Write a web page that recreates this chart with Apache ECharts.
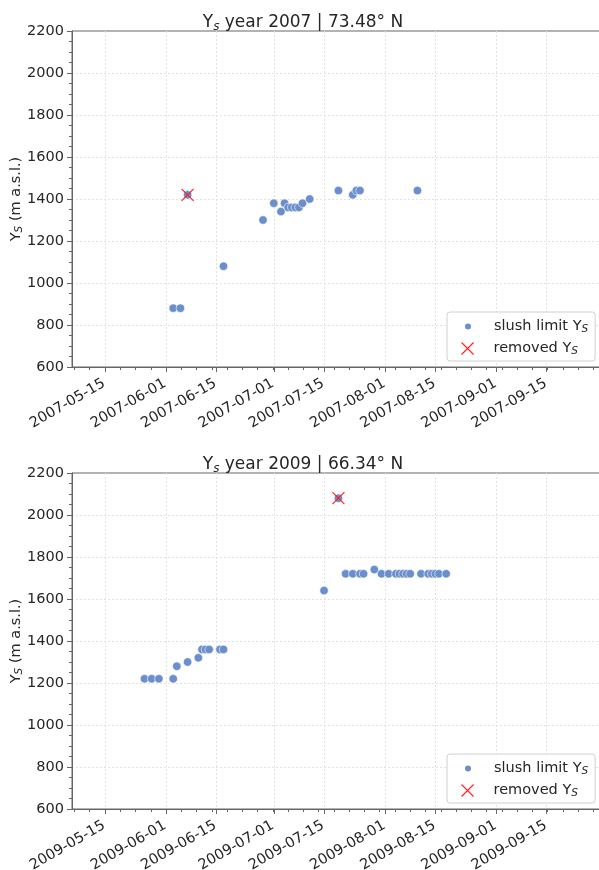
<!DOCTYPE html>
<html><head><meta charset="utf-8">
<script src="https://cdn.jsdelivr.net/npm/echarts@6/dist/echarts.min.js"></script>
<style>html,body{margin:0;padding:0;background:#fff}#c{width:599px;height:870px}</style>
</head><body><div id="c"></div>
<script>
// ---------- data ----------
const xTickLabels2007 = ['2007-05-15','2007-06-01','2007-06-15','2007-07-01','2007-07-15','2007-08-01','2007-08-15','2007-09-01','2007-09-15'];
const xTickLabels2009 = ['2009-05-15','2009-06-01','2009-06-15','2009-07-01','2009-07-15','2009-08-01','2009-08-15','2009-09-01','2009-09-15'];
const yTicks = [600, 800, 1000, 1200, 1400, 1600, 1800, 2000, 2200];

const dates2007 = ['2007-06-03','2007-06-05','2007-06-07','2007-06-17','2007-06-28','2007-07-01','2007-07-03','2007-07-04','2007-07-05','2007-07-06','2007-07-07','2007-07-08','2007-07-09','2007-07-11','2007-07-19','2007-07-23','2007-07-24','2007-07-25','2007-08-10'];
const values2007 = [880, 880, 1420, 1080, 1300, 1380, 1340, 1380, 1360, 1360, 1360, 1360, 1380, 1400, 1440, 1420, 1440, 1440, 1440];
const removedDates2007 = ['2007-06-07'];
const removedValues2007 = [1420];

const dates2009 = ['2009-05-26','2009-05-28','2009-05-30','2009-06-03','2009-06-04','2009-06-07','2009-06-10','2009-06-11','2009-06-12','2009-06-13','2009-06-16','2009-06-17','2009-07-15','2009-07-19','2009-07-21','2009-07-23','2009-07-25','2009-07-26','2009-07-29','2009-07-31','2009-08-02','2009-08-04','2009-08-05','2009-08-06','2009-08-07','2009-08-08','2009-08-11','2009-08-13','2009-08-14','2009-08-15','2009-08-16','2009-08-18'];
const values2009 = [1220, 1220, 1220, 1220, 1280, 1300, 1320, 1360, 1360, 1360, 1360, 1360, 1640, 2080, 1720, 1720, 1720, 1720, 1740, 1720, 1720, 1720, 1720, 1720, 1720, 1720, 1720, 1720, 1720, 1720, 1720, 1720];
const removedDates2009 = ['2009-07-19'];
const removedValues2009 = [2080];

// ---------- helpers ----------
const DAY = 86400000;
const FONT = 'DejaVu Sans';
const TXT = '#262626';
const AX = '#666666';
function ts(s){ const p = s.split('-').map(Number); return Date.UTC(p[0], p[1]-1, p[2]); }
function fmt(v){ const d = new Date(v); const p = n => (n<10?'0':'')+n; return d.getUTCFullYear()+'-'+p(d.getUTCMonth()+1)+'-'+p(d.getUTCDate()); }
function pairs(ds, vs){ return ds.map((d,i)=>[ts(d), vs[i]]); }
function minorTicks(major, lo, hi){
  const step = (major[1]-major[0])/4;
  const out = [];
  let k = Math.ceil((lo - major[0]) / step);
  for (;; k++){
    const t = major[0] + k*step;
    if (t > hi) break;
    if (t >= lo && !major.some(m => Math.abs(m - t) < 1000)) out.push(t);
  }
  return out;
}

const XMARGIN_L = 9.19 * DAY, XMARGIN_R = 14.84 * DAY;
const grids = [{top: 31}, {top: 473}];
const blue = '#6b8ecc';
const xSym = 'path://M0,0L10,10M10,0L0,10';
const GRIDLINE = {color: '#e2e2e2', type: [2,2], width: 1};

const option = {
  animation: false,
  backgroundColor: '#ffffff',
  title: [], grid: [], xAxis: [], yAxis: [], series: [], legend: []
};

const sets = [
  {year: '2007', lat: '73.48', ticks: xTickLabels2007, d: dates2007, v: values2007, rd: removedDates2007, rv: removedValues2007},
  {year: '2009', lat: '66.34', ticks: xTickLabels2009, d: dates2009, v: values2009, rd: removedDates2009, rv: removedValues2009}
];

const subRich = {sub: {fontFamily: FONT, fontSize: 10.5, fontStyle: 'italic', color: TXT, padding: [6,0,0,0]}};

sets.forEach((s, i) => {
  const top = grids[i].top;
  const major = s.ticks.map(ts);
  const xmin = major[0] - XMARGIN_L, xmax = major[major.length-1] + XMARGIN_R;
  option.title.push({
    text: 'Y{sub|s} year ' + s.year + ' | ' + s.lat + '° N',
    left: 303, top: top - 17.5, textAlign: 'center', padding: 0,
    textStyle: {fontFamily: FONT, fontSize: 17, fontWeight: 'normal', color: TXT,
      rich: {sub: {fontFamily: FONT, fontSize: 12, fontStyle: 'italic', color: TXT, padding: [7,0,0,0]}}}
  });
  option.grid.push({left: 72, top: top, width: 528, height: 336, show: true, borderColor: AX, borderWidth: 1,
    backgroundColor: 'transparent', containLabel: false, outerBoundsMode: 'none'});
  option.xAxis.push({
    type: 'value', gridIndex: i, min: xmin, max: xmax, position: 'bottom',
    axisLine: {show: true, onZero: false, lineStyle: {color: AX, width: 1}},
    axisTick: {show: true, length: 5, customValues: major, lineStyle: {color: AX}},
    axisLabel: {customValues: major, rotate: 30, formatter: v => fmt(v), fontFamily: FONT, fontSize: 14.5, color: TXT, margin: 15, padding: [0,1,0,0]},
    splitLine: {show: true, lineStyle: GRIDLINE}
  });
  option.xAxis.push({
    type: 'value', gridIndex: i, min: xmin, max: xmax, position: 'bottom',
    axisLine: {show: false, onZero: false},
    axisTick: {show: true, length: 3, customValues: minorTicks(major, xmin, xmax), lineStyle: {color: AX}},
    axisLabel: {show: false}, splitLine: {show: false}
  });
  option.yAxis.push({
    type: 'value', gridIndex: i, min: yTicks[0], max: yTicks[yTicks.length-1], interval: yTicks[1]-yTicks[0],
    axisLine: {show: true, lineStyle: {color: AX, width: 1}},
    axisTick: {show: true, length: 5, lineStyle: {color: AX}},
    minorTick: {show: true, splitNumber: 4, length: 3, lineStyle: {color: AX}},
    axisLabel: {fontFamily: FONT, fontSize: 14.5, color: TXT, margin: 8, formatter: v => String(v)},
    splitLine: {show: true, showMinLine: false, showMaxLine: false, lineStyle: GRIDLINE},
    name: 'Y{sub|S} (m a.s.l.)', nameLocation: 'middle', nameGap: 47, nameRotate: 90, nameMoveOverlap: false,
    nameTextStyle: {fontFamily: FONT, fontSize: 14.5, color: TXT, rich: subRich}
  });
  const nSl = 'slush limit ' + s.year, nRm = 'removed ' + s.year;
  option.series.push({
    type: 'scatter', name: nSl, xAxisIndex: 2*i, yAxisIndex: i, data: pairs(s.d, s.v),
    symbol: 'circle', symbolSize: 8.5, itemStyle: {color: blue, borderColor: '#ffffff', borderWidth: 0.6, opacity: 1}, z: 3
  });
  option.series.push({
    type: 'scatter', name: nRm, xAxisIndex: 2*i, yAxisIndex: i, data: pairs(s.rd, s.rv),
    symbol: xSym, symbolSize: 12, itemStyle: {color: 'rgba(0,0,0,0)', borderColor: '#ff1f1f', borderWidth: 1.1, opacity: 1}, z: 4
  });
  const legTop = top + 281;
  const tsA = {fontFamily: FONT, fontSize: 14.5, color: TXT,
    rich: Object.assign({gap: {width: 17}}, subRich)};
  const tsB = {fontFamily: FONT, fontSize: 14.5, color: TXT,
    rich: Object.assign({gap: {width: 15}}, subRich)};
  option.legend.push({
    data: [{name: nSl, icon: 'circle'}], left: 447, top: legTop, orient: 'vertical',
    padding: [7, 7, 26, 16], itemWidth: 8, itemHeight: 8, selectedMode: false,
    borderColor: '#d0d0d0', borderWidth: 1, borderRadius: 3, backgroundColor: 'rgba(255,255,255,0.85)',
    formatter: () => '{gap|}slush limit Y{sub|S}', textStyle: tsA
  });
  option.legend.push({
    data: [{name: nRm, icon: xSym}], left: 447, top: legTop + 29, orient: 'vertical',
    padding: [0, 0, 0, 14], itemWidth: 12, itemHeight: 12, selectedMode: false,
    itemStyle: {color: 'rgba(0,0,0,0)', borderColor: '#ff1f1f', borderWidth: 1.1},
    formatter: () => '{gap|}removed Y{sub|S}', textStyle: tsB
  });
});

const chart = echarts.init(document.getElementById('c'), null, {renderer: 'canvas'});
chart.setOption(option);
</script>
</body></html>
